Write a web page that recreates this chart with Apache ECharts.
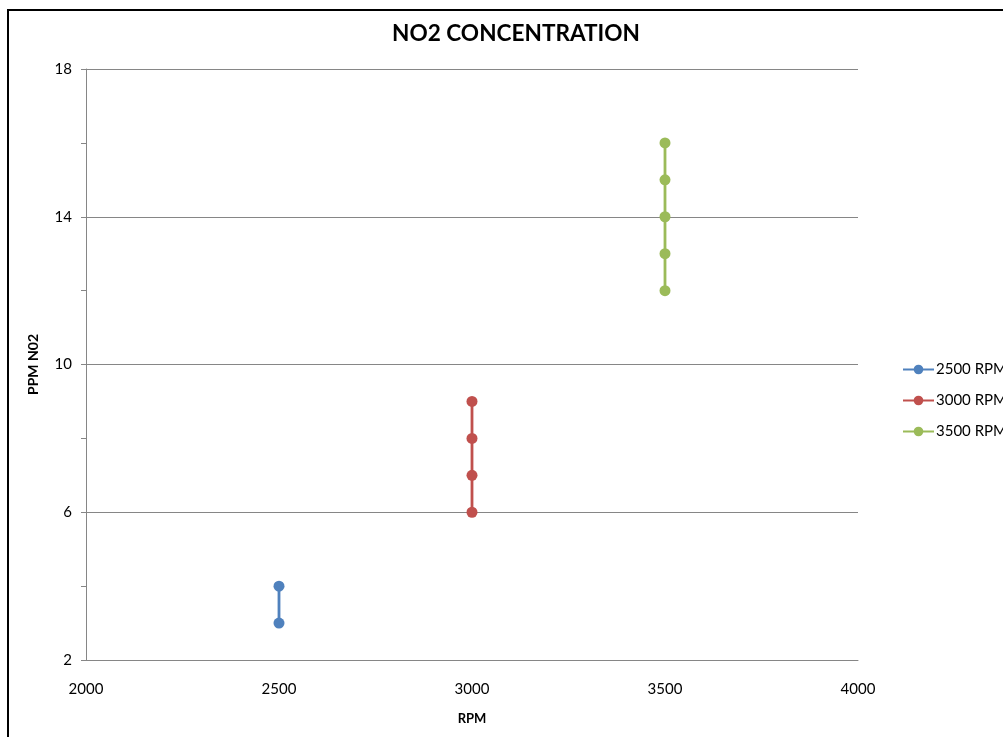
<!DOCTYPE html>
<html>
<head>
<meta charset="utf-8">
<script src="https://cdn.jsdelivr.net/npm/echarts@6/dist/echarts.min.js"></script>
<style>html,body{margin:0;padding:0;background:#fff;}#c{width:1003px;height:737px;}</style>
</head>
<body>
<div id="c"></div>
<script>
var seriesNames = ['2500 RPM', '3000 RPM', '3500 RPM'];
var rpm2500 = [[2500, 4], [2500, 3]];
var rpm3000 = [[3000, 9], [3000, 8], [3000, 7], [3000, 6]];
var rpm3500 = [[3500, 16], [3500, 15], [3500, 14], [3500, 13], [3500, 12]];
var colors = ['#4F81BD', '#C0504D', '#9BBB59'];

var chart = echarts.init(document.getElementById('c'), null, {renderer: 'canvas'});
var font = 'Lato, "Open Sans", sans-serif';
function mk(name, data, color) {
  return {
    name: name, type: 'line', data: data, color: color,
    symbol: 'circle', symbolSize: 11,
    lineStyle: {width: 2.8, color: color},
    itemStyle: {color: color},
    animation: false
  };
}
chart.setOption({
  animation: false,
  title: {
    text: 'NO2 CONCENTRATION', left: 511, top: 17, textAlign: 'center',
    textStyle: {fontFamily: font, fontWeight: 'bold', fontSize: 22.6, color: '#000'}
  },
  legend: {
    orient: 'vertical', left: 897, top: 357, itemWidth: 31, itemHeight: 12, itemGap: 16,
    data: seriesNames,
    textStyle: {fontFamily: font, fontSize: 15, color: '#000', padding: [0, 0, 0, -3]}
  },
  grid: {left: 86, right: 145, top: 69, bottom: 77, containLabel: false, outerBoundsMode: 'none'},
  xAxis: {
    type: 'value', min: 2000, max: 4000, interval: 500,
    name: 'RPM', nameLocation: 'middle', nameGap: 52,
    nameTextStyle: {fontFamily: font, fontWeight: 'bold', fontSize: 13, color: '#000'},
    axisLine: {show: true, lineStyle: {color: '#868686', width: 1}},
    axisTick: {show: false},
    splitLine: {show: false},
    axisLabel: {fontFamily: font, fontSize: 15, color: '#000', margin: 22, formatter: function (v) { return String(v); }}
  },
  yAxis: {
    type: 'value', min: 2, max: 18, interval: 4,
    name: 'PPM N02', nameLocation: 'middle', nameGap: 46, nameRotate: 90,
    nameTextStyle: {fontFamily: font, fontWeight: 'bold', fontSize: 14, color: '#000'},
    axisLine: {show: true, lineStyle: {color: '#868686', width: 1}},
    axisTick: {show: true, length: 5, lineStyle: {color: '#868686'}},
    minorTick: {show: true, splitNumber: 2, length: 5, lineStyle: {color: '#868686'}},
    splitLine: {show: true, lineStyle: {color: '#868686', width: 1}},
    axisLabel: {fontFamily: font, fontSize: 15, color: '#000', margin: 14}
  },
  graphic: [{
    type: 'polyline', silent: true,
    shape: {points: [[8, 737], [8, 10], [1003, 10]]},
    style: {stroke: '#000', lineWidth: 2, fill: null}
  }],
  series: [mk(seriesNames[0], rpm2500, colors[0]), mk(seriesNames[1], rpm3000, colors[1]), mk(seriesNames[2], rpm3500, colors[2])]
});
</script>
</body>
</html>
